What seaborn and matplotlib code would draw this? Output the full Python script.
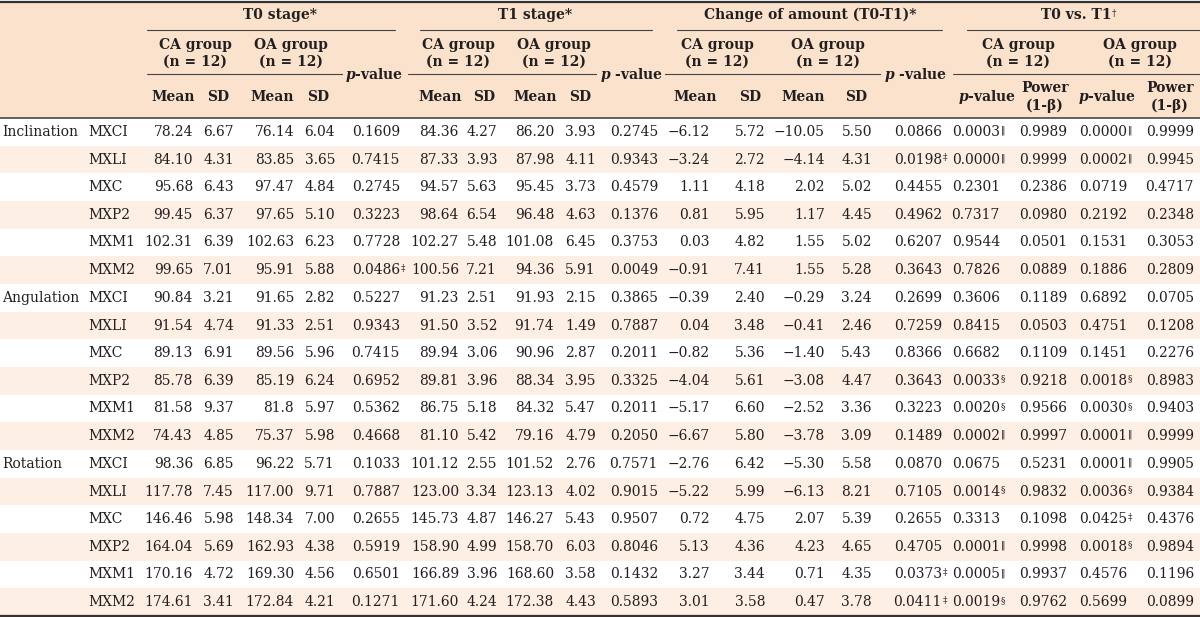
import matplotlib
matplotlib.use("Agg")
import matplotlib.pyplot as plt
import seaborn as sns

sns.set_theme(style="white")
plt.rcParams["font.family"] = ["DejaVu Serif", "DejaVu Sans"]
plt.rcParams["mathtext.fontset"] = "custom"
plt.rcParams["mathtext.it"] = "DejaVu Serif:italic:bold"
plt.rcParams["mathtext.rm"] = "DejaVu Serif:bold"

# ── Table data ────────────────────────────────────────────────────────────────
categories = ["Inclination", "Angulation", "Rotation"]
measures = ["MXCI", "MXLI", "MXC", "MXP2", "MXM1", "MXM2"]

t0_ca_mean = ["78.24", "84.10", "95.68", "99.45", "102.31", "99.65", "90.84", "91.54", "89.13",
              "85.78", "81.58", "74.43", "98.36", "117.78", "146.46", "164.04", "170.16", "174.61"]
t0_ca_sd = ["6.67", "4.31", "6.43", "6.37", "6.39", "7.01", "3.21", "4.74", "6.91",
            "6.39", "9.37", "4.85", "6.85", "7.45", "5.98", "5.69", "4.72", "3.41"]
t0_oa_mean = ["76.14", "83.85", "97.47", "97.65", "102.63", "95.91", "91.65", "91.33", "89.56",
              "85.19", "81.8", "75.37", "96.22", "117.00", "148.34", "162.93", "169.30", "172.84"]
t0_oa_sd = ["6.04", "3.65", "4.84", "5.10", "6.23", "5.88", "2.82", "2.51", "5.96",
            "6.24", "5.97", "5.98", "5.71", "9.71", "7.00", "4.38", "4.56", "4.21"]
t0_p = ["0.1609", "0.7415", "0.2745", "0.3223", "0.7728", "0.0486‡", "0.5227", "0.9343", "0.7415",
        "0.6952", "0.5362", "0.4668", "0.1033", "0.7887", "0.2655", "0.5919", "0.6501", "0.1271"]

t1_ca_mean = ["84.36", "87.33", "94.57", "98.64", "102.27", "100.56", "91.23", "91.50", "89.94",
              "89.81", "86.75", "81.10", "101.12", "123.00", "145.73", "158.90", "166.89", "171.60"]
t1_ca_sd = ["4.27", "3.93", "5.63", "6.54", "5.48", "7.21", "2.51", "3.52", "3.06",
            "3.96", "5.18", "5.42", "2.55", "3.34", "4.87", "4.99", "3.96", "4.24"]
t1_oa_mean = ["86.20", "87.98", "95.45", "96.48", "101.08", "94.36", "91.93", "91.74", "90.96",
              "88.34", "84.32", "79.16", "101.52", "123.13", "146.27", "158.70", "168.60", "172.38"]
t1_oa_sd = ["3.93", "4.11", "3.73", "4.63", "6.45", "5.91", "2.15", "1.49", "2.87",
            "3.95", "5.47", "4.79", "2.76", "4.02", "5.43", "6.03", "3.58", "4.43"]
t1_p = ["0.2745", "0.9343", "0.4579", "0.1376", "0.3753", "0.0049", "0.3865", "0.7887", "0.2011",
        "0.3325", "0.2011", "0.2050", "0.7571", "0.9015", "0.9507", "0.8046", "0.1432", "0.5893"]

chg_ca_mean = ["−6.12", "−3.24", "1.11", "0.81", "0.03", "−0.91", "−0.39", "0.04", "−0.82",
               "−4.04", "−5.17", "−6.67", "−2.76", "−5.22", "0.72", "5.13", "3.27", "3.01"]
chg_ca_sd = ["5.72", "2.72", "4.18", "5.95", "4.82", "7.41", "2.40", "3.48", "5.36",
             "5.61", "6.60", "5.80", "6.42", "5.99", "4.75", "4.36", "3.44", "3.58"]
chg_oa_mean = ["−10.05", "−4.14", "2.02", "1.17", "1.55", "1.55", "−0.29", "−0.41", "−1.40",
               "−3.08", "−2.52", "−3.78", "−5.30", "−6.13", "2.07", "4.23", "0.71", "0.47"]
chg_oa_sd = ["5.50", "4.31", "5.02", "4.45", "5.02", "5.28", "3.24", "2.46", "5.43",
             "4.47", "3.36", "3.09", "5.58", "8.21", "5.39", "4.65", "4.35", "3.78"]
chg_p = ["0.0866", "0.0198‡", "0.4455", "0.4962", "0.6207", "0.3643", "0.2699", "0.7259", "0.8366",
         "0.3643", "0.3223", "0.1489", "0.0870", "0.7105", "0.2655", "0.4705", "0.0373‡", "0.0411‡"]

vs_ca_p = ["0.0003‖", "0.0000‖", "0.2301", "0.7317", "0.9544", "0.7826", "0.3606", "0.8415", "0.6682",
           "0.0033§", "0.0020§", "0.0002‖", "0.0675", "0.0014§", "0.3313", "0.0001‖", "0.0005‖", "0.0019§"]
vs_ca_power = ["0.9989", "0.9999", "0.2386", "0.0980", "0.0501", "0.0889", "0.1189", "0.0503", "0.1109",
               "0.9218", "0.9566", "0.9997", "0.5231", "0.9832", "0.1098", "0.9998", "0.9937", "0.9762"]
vs_oa_p = ["0.0000‖", "0.0002‖", "0.0719", "0.2192", "0.1531", "0.1886", "0.6892", "0.4751", "0.1451",
           "0.0018§", "0.0030§", "0.0001‖", "0.0001‖", "0.0036§", "0.0425‡", "0.0018§", "0.4576", "0.5699"]
vs_oa_power = ["0.9999", "0.9945", "0.4717", "0.2348", "0.3053", "0.2809", "0.0705", "0.1208", "0.2276",
               "0.8983", "0.9403", "0.9999", "0.9905", "0.9384", "0.4376", "0.9894", "0.1196", "0.0899"]

columns = [t0_ca_mean, t0_ca_sd, t0_oa_mean, t0_oa_sd, t0_p,
           t1_ca_mean, t1_ca_sd, t1_oa_mean, t1_oa_sd, t1_p,
           chg_ca_mean, chg_ca_sd, chg_oa_mean, chg_oa_sd, chg_p,
           vs_ca_p, vs_ca_power, vs_oa_p, vs_oa_power]

# ── Layout (pixel coordinates) ────────────────────────────────────────────────
W, H = 1200, 617
col_right = [193, 234, 294, 335, 400,
             459, 497, 554, 596, 658,
             710, 765, 825, 872, 942,
             1000, 1067, 1127, 1194]
head_bottom, body_bottom = 118, 616
n_rows = len(t0_ca_mean)
row_h = (body_bottom - head_bottom) / n_rows

HEAD_BG = "#fbe2cc"
STRIPE = "#fdefe3"
INK = "#231f20"
FS = 10

fig = plt.figure(figsize=(12, 6.17), dpi=100)
ax = fig.add_axes([0, 0, 1, 1])
ax.set_xlim(0, W)
ax.set_ylim(H, 0)
ax.axis("off")

# backgrounds
ax.axhspan(2, head_bottom, color=HEAD_BG, lw=0)
for i in range(n_rows):
    if i % 2 == 1:
        ax.axhspan(head_bottom + i * row_h, head_bottom + (i + 1) * row_h, color=STRIPE, lw=0)

# rules
ax.plot([0, W], [1.5, 1.5], color="#333333", lw=1.6)
ax.plot([0, W], [head_bottom, head_bottom], color="#555555", lw=1.3)
ax.plot([0, W], [body_bottom, body_bottom], color="#333333", lw=1.6)
for x0, x1 in [(147, 395), (420, 652), (677, 942), (967, 1200)]:
    ax.plot([x0, x1], [30, 30], color="#444444", lw=0.8)
for x0, x1 in [(147, 347), (408, 600), (663, 882), (953, 1200)]:
    ax.plot([x0, x1], [74, 74], color="#444444", lw=0.8)


def split_mark(s):
    num = s.rstrip("‡§‖†")
    return num, s[len(num):]


def put(x, y, s, ha="right", weight="normal", size=FS):
    num, mark = split_mark(s)
    t = ax.text(x, y, num, ha=ha, va="center", fontsize=size, color=INK, fontweight=weight)
    if mark:
        # superscript note mark, top aligned with the digits
        ax.annotate(mark, xy=(1, 0.5), xycoords=t, xytext=(0.6, 4.6), textcoords="offset points",
                    ha="left", va="top", fontsize=6.5, color=INK)
    return t


# header: stage titles
stage_titles = ["T0 stage*", "T1 stage*", "Change of amount (T0-T1)*", "T0 vs. T1†"]
stage_x = [280, 535, 810, 1076]
for x, s in zip(stage_x, stage_titles):
    put(x, 15, s, ha="center", weight="bold")

# header: group titles
group_x = [195, 291, 458, 554, 717, 828, 1018, 1140]
for j, x in enumerate(group_x):
    g = "CA group" if j % 2 == 0 else "OA group"
    ax.text(x, 45, g, ha="center", va="center", fontsize=FS, fontweight="bold", color=INK)
    ax.text(x, 62, "(n = 12)", ha="center", va="center", fontsize=FS, fontweight="bold", color=INK)

# header: column labels
sub_x = [173, 218, 272, 318, 440, 484, 535, 580, 695, 750, 803, 856]
for j, x in enumerate(sub_x):
    ax.text(x, 97, "Mean" if j % 2 == 0 else "SD", ha="center", va="center",
            fontsize=FS, fontweight="bold", color=INK)
for x, s in zip([374, 631, 915], ["$p$-value", "$p$ -value", "$p$ -value"]):
    ax.text(x, 75, s, ha="center", va="center", fontsize=FS, fontweight="bold", color=INK,
            bbox=dict(boxstyle="square,pad=0.15", fc=HEAD_BG, ec="none"))
for x in [987, 1107]:
    ax.text(x, 97, "$p$-value", ha="center", va="center", fontsize=FS, fontweight="bold", color=INK)
for x in [1045, 1170]:
    ax.text(x, 88, "Power", ha="center", va="center", fontsize=FS, fontweight="bold", color=INK)
    ax.text(x, 106, "(1-β)", ha="center", va="center", fontsize=FS, fontweight="bold", color=INK)

# body
for i in range(n_rows):
    y = head_bottom + (i + 0.5) * row_h
    if i % len(measures) == 0:
        ax.text(2, y, categories[i // len(measures)], ha="left", va="center", fontsize=FS, color=INK)
    ax.text(88, y, measures[i % len(measures)], ha="left", va="center", fontsize=FS, color=INK)
    for col, xr in zip(columns, col_right):
        put(xr, y, col[i])

fig.savefig("out.png", dpi=100)
plt.close(fig)
